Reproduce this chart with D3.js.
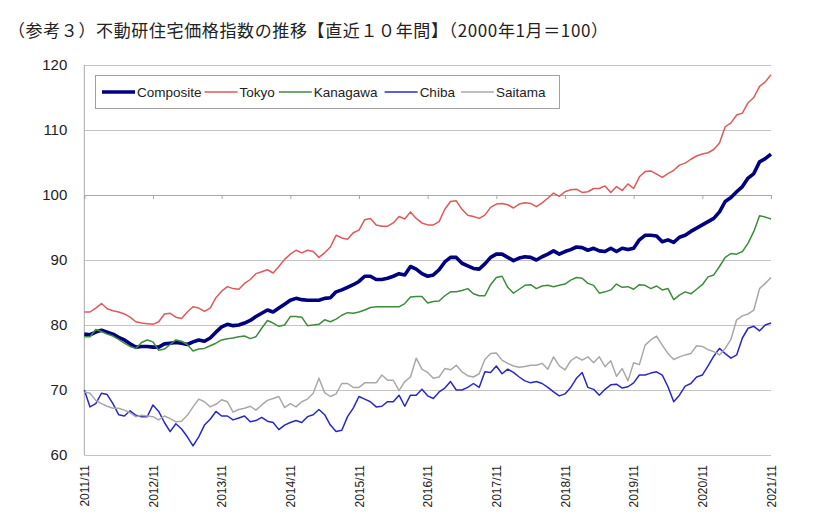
<!DOCTYPE html>
<html><head><meta charset="utf-8">
<script src="https://cdn.jsdelivr.net/npm/d3@7"></script>
<style>
body{margin:0;background:#fff;}
svg{display:block;}
</style></head>
<body>
<svg id="chart" width="828" height="530"></svg>
<script>
// ---- data (monthly, 2011/11 .. 2021/11) ----
const seriesNames = ["Composite","Tokyo","Kanagawa","Chiba","Saitama"];
const xTickLabels = ["2011/11","2012/11","2013/11","2014/11","2015/11","2016/11","2017/11","2018/11","2019/11","2020/11","2021/11"];
const yTickValues = [60,70,80,90,100,110,120];

const composite = [78.6,78.5,78.9,79.2,78.9,78.6,78.1,77.7,77.1,76.6,76.7,76.7,76.6,76.6,77.1,77.2,77.3,77.2,77.0,77.4,77.7,77.5,78.0,78.9,79.7,80.1,79.9,80.0,
80.3,80.7,81.3,81.8,82.3,82.0,82.6,83.2,83.8,84.1,83.9,83.8,83.8,83.8,84.1,84.2,85.1,85.4,85.8,86.2,86.7,87.5,87.5,87.0,87.0,87.2,87.5,87.9,87.7,89.0,88.6,87.9,87.5,
87.7,88.5,89.7,90.4,90.4,89.5,89.1,88.7,88.6,89.4,90.4,90.9,90.9,90.4,89.9,90.3,90.5,90.4,90.0,90.5,90.9,91.4,90.9,91.3,91.6,92.0,91.9,91.5,91.8,91.4,
91.3,91.8,91.3,91.8,91.6,91.8,93.1,93.8,93.8,93.7,92.8,93.1,92.7,93.5,93.8,94.4,94.9,95.4,95.9,96.4,97.4,99.0,99.6,100.5,101.3,102.6,103.3,105.1,105.6,106.3];

const tokyo = [82.0,82.0,82.6,83.3,82.5,82.2,82.0,81.7,81.2,80.5,80.3,80.2,80.1,80.5,81.7,81.8,81.2,81.0,82.0,82.8,82.6,82.1,82.6,84.2,85.2,85.9,85.6,85.5,
86.4,87.0,87.9,88.2,88.5,88.0,89.0,90.1,90.9,91.5,91.1,91.5,91.3,90.4,91.1,92.0,93.8,93.4,93.2,94.2,94.6,96.2,96.4,95.4,95.2,95.2,95.7,96.7,96.3,97.4,96.4,95.7,95.4,
95.4,95.9,97.8,99.0,99.1,97.8,96.9,96.7,96.4,96.9,98.1,98.6,98.7,98.5,98.0,98.6,98.8,98.7,98.2,98.8,99.5,100.3,99.8,100.5,100.8,100.9,100.4,100.5,101.0,101.0,
101.4,100.4,101.3,100.7,101.7,101.0,102.8,103.6,103.7,103.2,102.7,103.3,103.8,104.6,104.9,105.5,106.0,106.3,106.5,107.0,108.0,110.5,111.1,112.3,112.6,114.2,115.0,116.7,117.4,118.5];

const kanagawa = [78.2,78.2,79.3,79.0,78.6,78.3,77.8,77.2,76.7,76.4,77.3,77.7,77.4,76.1,76.3,77.0,77.7,77.5,77.0,76.0,76.3,76.4,76.8,77.2,77.7,77.9,78.0,78.2,
78.3,77.9,78.2,79.5,80.7,80.3,79.8,80.0,81.3,81.3,81.2,79.9,80.0,80.1,80.8,80.5,80.9,81.5,81.9,81.8,82.0,82.3,82.7,82.8,82.8,82.8,82.8,82.8,83.3,84.3,84.4,84.4,83.4,
83.6,83.7,84.5,85.1,85.1,85.3,85.6,84.8,84.5,84.5,86.2,87.3,87.5,85.8,84.9,85.5,86.1,86.2,85.6,86.0,86.1,85.9,86.1,86.3,86.9,87.3,87.2,86.4,86.1,84.9,
85.1,85.4,86.3,85.8,85.9,85.5,86.2,86.1,85.6,86.0,85.4,85.6,83.9,84.6,85.1,84.8,85.5,86.2,87.4,87.7,89.0,90.4,91.0,90.9,91.3,92.6,94.4,96.8,96.6,96.3];

const chiba = [70.0,67.4,67.9,69.5,69.3,67.9,66.2,66.0,66.8,66.1,65.9,65.9,67.7,66.7,65.0,63.6,64.8,64.0,62.8,61.4,62.8,64.6,65.5,66.7,66.0,66.0,65.4,65.7,
66.0,65.1,65.3,65.8,65.2,65.0,63.9,64.6,65.0,65.3,65.0,65.9,66.2,67.0,66.2,64.6,63.6,63.8,65.9,67.2,69.0,68.6,68.2,67.4,67.5,68.2,68.2,69.2,67.5,69.2,69.2,70.1,69.1,
68.7,69.7,70.3,71.3,70.0,70.0,70.4,71.0,70.4,72.8,72.7,73.7,72.5,73.2,72.7,72.0,71.4,71.1,71.3,71.0,70.4,69.7,69.1,69.4,70.4,71.8,72.7,70.4,70.1,69.2,
70.1,70.8,70.9,70.3,70.5,71.1,72.3,72.3,72.6,72.8,72.3,70.5,68.2,69.2,70.6,71.0,72.0,72.3,73.7,75.2,76.4,75.6,74.9,75.4,78.0,79.5,79.8,79.1,80.0,80.3];

const saitama = [69.7,69.5,68.4,67.9,67.5,67.2,67.2,66.9,66.5,65.9,66.1,66.0,65.9,65.4,66.0,65.6,65.1,65.2,66.1,67.4,68.6,68.2,67.4,67.8,68.5,68.2,66.6,67.0,
67.2,67.5,66.9,67.7,68.4,68.7,69.0,67.3,67.9,67.4,68.2,68.6,69.5,71.8,69.6,69.0,69.4,71.0,71.0,70.4,70.4,71.1,71.1,71.1,72.3,71.5,71.5,69.9,71.3,72.0,74.9,73.2,72.7,
71.8,72.0,73.3,73.1,73.8,72.8,72.2,72.0,72.5,74.7,75.6,75.7,74.6,74.1,73.7,73.5,73.6,73.8,73.8,74.1,73.2,75.1,73.7,73.1,74.5,75.1,74.6,75.1,74.2,75.1,
73.6,74.5,72.1,73.3,71.4,74.2,73.9,76.9,77.7,78.3,76.9,75.6,74.7,75.1,75.4,75.6,76.8,76.7,76.2,75.9,75.4,76.4,77.8,80.8,81.4,81.7,82.3,85.6,86.4,87.3];

// ---- styling ----
const seriesData = [composite, tokyo, kanagawa, chiba, saitama];
const colors = ["#000080","#e0585a","#3c8c3c","#2828c8","#a8a8a8"];
const widths = [3.6,1.5,1.5,1.5,1.5];

const svg = d3.select("#chart");
const L = 84.3, R = 771, T = 65, B = 455;
const x = d3.scaleLinear().domain([0, 120]).range([L, R]);
const y = d3.scaleLinear().domain([60, 120]).range([B, T]);

// title
svg.append("text")
  .attr("x", 8).attr("y", 37)
  .attr("font-family", "'Noto Sans CJK JP', sans-serif")
  .attr("font-size", 17)
  .attr("fill", "#222")
  .attr("textLength", 600).attr("lengthAdjust", "spacing")
  .text("（参考３）不動研住宅価格指数の推移【直近１０年間】（2000年1月＝100）");

// horizontal gridlines
const grid = svg.append("g").attr("transform", `translate(${L},0)`)
  .call(d3.axisLeft(y).tickValues(yTickValues).tickSize(-(R - L)).tickFormat(""));
grid.select(".domain").remove();
grid.selectAll(".tick line").attr("stroke", "#c4c4c4").attr("stroke-width", 1);

// left axis line
svg.append("line").attr("x1", L).attr("x2", L).attr("y1", T).attr("y2", B)
  .attr("stroke", "#a8a8a8").attr("stroke-width", 1);

// y labels
const yAx = svg.append("g").attr("transform", `translate(${L},0)`)
  .call(d3.axisLeft(y).tickValues(yTickValues).tickSize(0).tickPadding(17).tickFormat(d3.format("d")));
yAx.select(".domain").remove();
yAx.selectAll("text").attr("font-family", "'Liberation Sans', Arial, sans-serif")
  .attr("font-size", 15).attr("fill", "#222");

// category axis crossing at 100 (tick marks only)
const xTickPos = xTickLabels.map((d, i) => i * 12);
const xAx = svg.append("g").attr("transform", `translate(0,${y(100)})`)
  .call(d3.axisBottom(x).tickValues(xTickPos).tickSize(4).tickFormat(""));
xAx.select(".domain").attr("stroke", "#a8a8a8");
xAx.selectAll(".tick line").attr("stroke", "#a8a8a8");

// x labels at bottom (low position)
const xLab = svg.append("g").attr("transform", `translate(0,${B})`)
  .call(d3.axisBottom(x).tickValues(xTickPos).tickSize(0).tickFormat((d, i) => xTickLabels[i]));
xLab.select(".domain").remove();
xLab.selectAll("text")
  .attr("font-family", "'Liberation Sans', Arial, sans-serif")
  .attr("font-size", 12).attr("fill", "#222")
  .attr("transform", "rotate(-90)")
  .attr("text-anchor", "end")
  .attr("x", -10).attr("y", 0).attr("dy", "0.35em");

// lines
const line = d3.line().x((d, i) => x(i)).y(d => y(d));
svg.append("g").selectAll("path").data(seriesData).join("path")
  .attr("d", d => line(d))
  .attr("fill", "none")
  .attr("stroke", (d, i) => colors[i])
  .attr("stroke-width", (d, i) => widths[i])
  .attr("stroke-linejoin", "round");

// legend
const lg = svg.append("g");
lg.append("rect").attr("x", 95.5).attr("y", 75.5).attr("width", 464).attr("height", 33)
  .attr("fill", "#fff").attr("stroke", "#a0a0a0").attr("stroke-width", 1);
let cx = 102;
const gaps = [3, 4, 7, 6, 0];
seriesNames.forEach((name, i) => {
  lg.append("line").attr("x1", cx).attr("x2", cx + 33).attr("y1", 92).attr("y2", 92)
    .attr("stroke", colors[i]).attr("stroke-width", widths[i]);
  const t = lg.append("text").attr("x", cx + 35).attr("y", 92).attr("dy", "0.35em")
    .attr("font-family", "'Liberation Sans', Arial, sans-serif")
    .attr("font-size", 13.5).attr("fill", "#222").text(name);
  cx = cx + 35 + t.node().getComputedTextLength() + gaps[i];
});
</script>
</body></html>
